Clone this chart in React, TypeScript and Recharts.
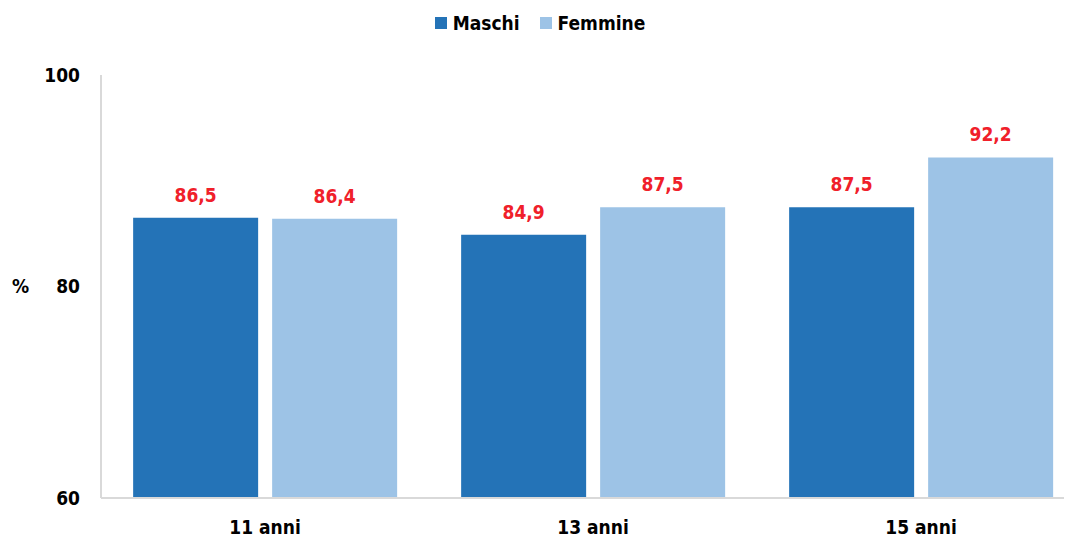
import React from 'react';
import { BarChart, Bar, XAxis, YAxis, Legend, LabelList, Label } from 'recharts';

const categories = ['11 anni', '13 anni', '15 anni'];
const maschi = [86.5, 84.9, 87.5];
const femmine = [86.4, 87.5, 92.2];
const yTicks = [60, 80, 100];

const data = categories.map((name, i) => ({ name, maschi: maschi[i], femmine: femmine[i] }));

const FONT = '"DejaVu Sans Condensed", "DejaVu Sans", sans-serif';
const BLUE = '#2473b7';
const LIGHT = '#9dc3e6';
const RED = '#f0202a';

const fmt = (v: number) => v.toFixed(1).replace('.', ',');

const LegendBox = () => (
  <div style={{ display: 'flex', justifyContent: 'center', gap: 20, fontFamily: FONT, fontWeight: 'bold', fontSize: 19, color: '#000', height: 24, alignItems: 'center' }}>
    {[
      ['Maschi', BLUE],
      ['Femmine', LIGHT],
    ].map(([t, c]) => (
      <span key={t} style={{ display: 'flex', alignItems: 'center' }}>
        <span style={{ width: 12, height: 12, background: c, marginRight: 6, display: 'inline-block' }} />
        {t}
      </span>
    ))}
  </div>
);

const App = () => (
  <div style={{ width: 1064, height: 532, overflow: 'hidden' }}>
    <BarChart
      width={1080}
      height={532}
      data={data}
      margin={{ top: 67, right: 3, left: 0, bottom: 0 }}
      barCategoryGap="9.8%"
      barGap={14}
    >
      <Legend
        verticalAlign="top"
        content={() => <LegendBox />}
        wrapperStyle={{ top: 3, left: 0, width: 1064, height: 0, overflow: 'visible' }}
      />
      <XAxis
        dataKey="name"
        height={42}
        tickLine={false}
        axisLine={{ stroke: '#d9d9d9', strokeWidth: 2 }}
        tick={{ fill: '#000', fontFamily: FONT, fontWeight: 'bold', fontSize: 19 }}
        tickMargin={17}
      />
      <YAxis
        width={93}
        domain={[60, 100]}
        ticks={yTicks}
        tickLine={false}
        axisLine={{ stroke: '#d9d9d9', strokeWidth: 2 }}
        tick={{ fill: '#000', fontFamily: FONT, fontWeight: 'bold', fontSize: 19 }}
        tickMargin={15}
      >
        <Label value="%" position="insideLeft" offset={4} style={{ fill: '#000', fontFamily: FONT, fontWeight: 'bold', fontSize: 19 }} />
      </YAxis>
      <Bar dataKey="maschi" fill={BLUE} isAnimationActive={false}>
        <LabelList dataKey="maschi" position="top" offset={16} formatter={fmt} style={{ fill: RED, fontFamily: FONT, fontWeight: 'bold', fontSize: 19 }} />
      </Bar>
      <Bar dataKey="femmine" fill={LIGHT} isAnimationActive={false}>
        <LabelList dataKey="femmine" position="top" offset={16} formatter={fmt} style={{ fill: RED, fontFamily: FONT, fontWeight: 'bold', fontSize: 19 }} />
      </Bar>
    </BarChart>
  </div>
);

export default App;
